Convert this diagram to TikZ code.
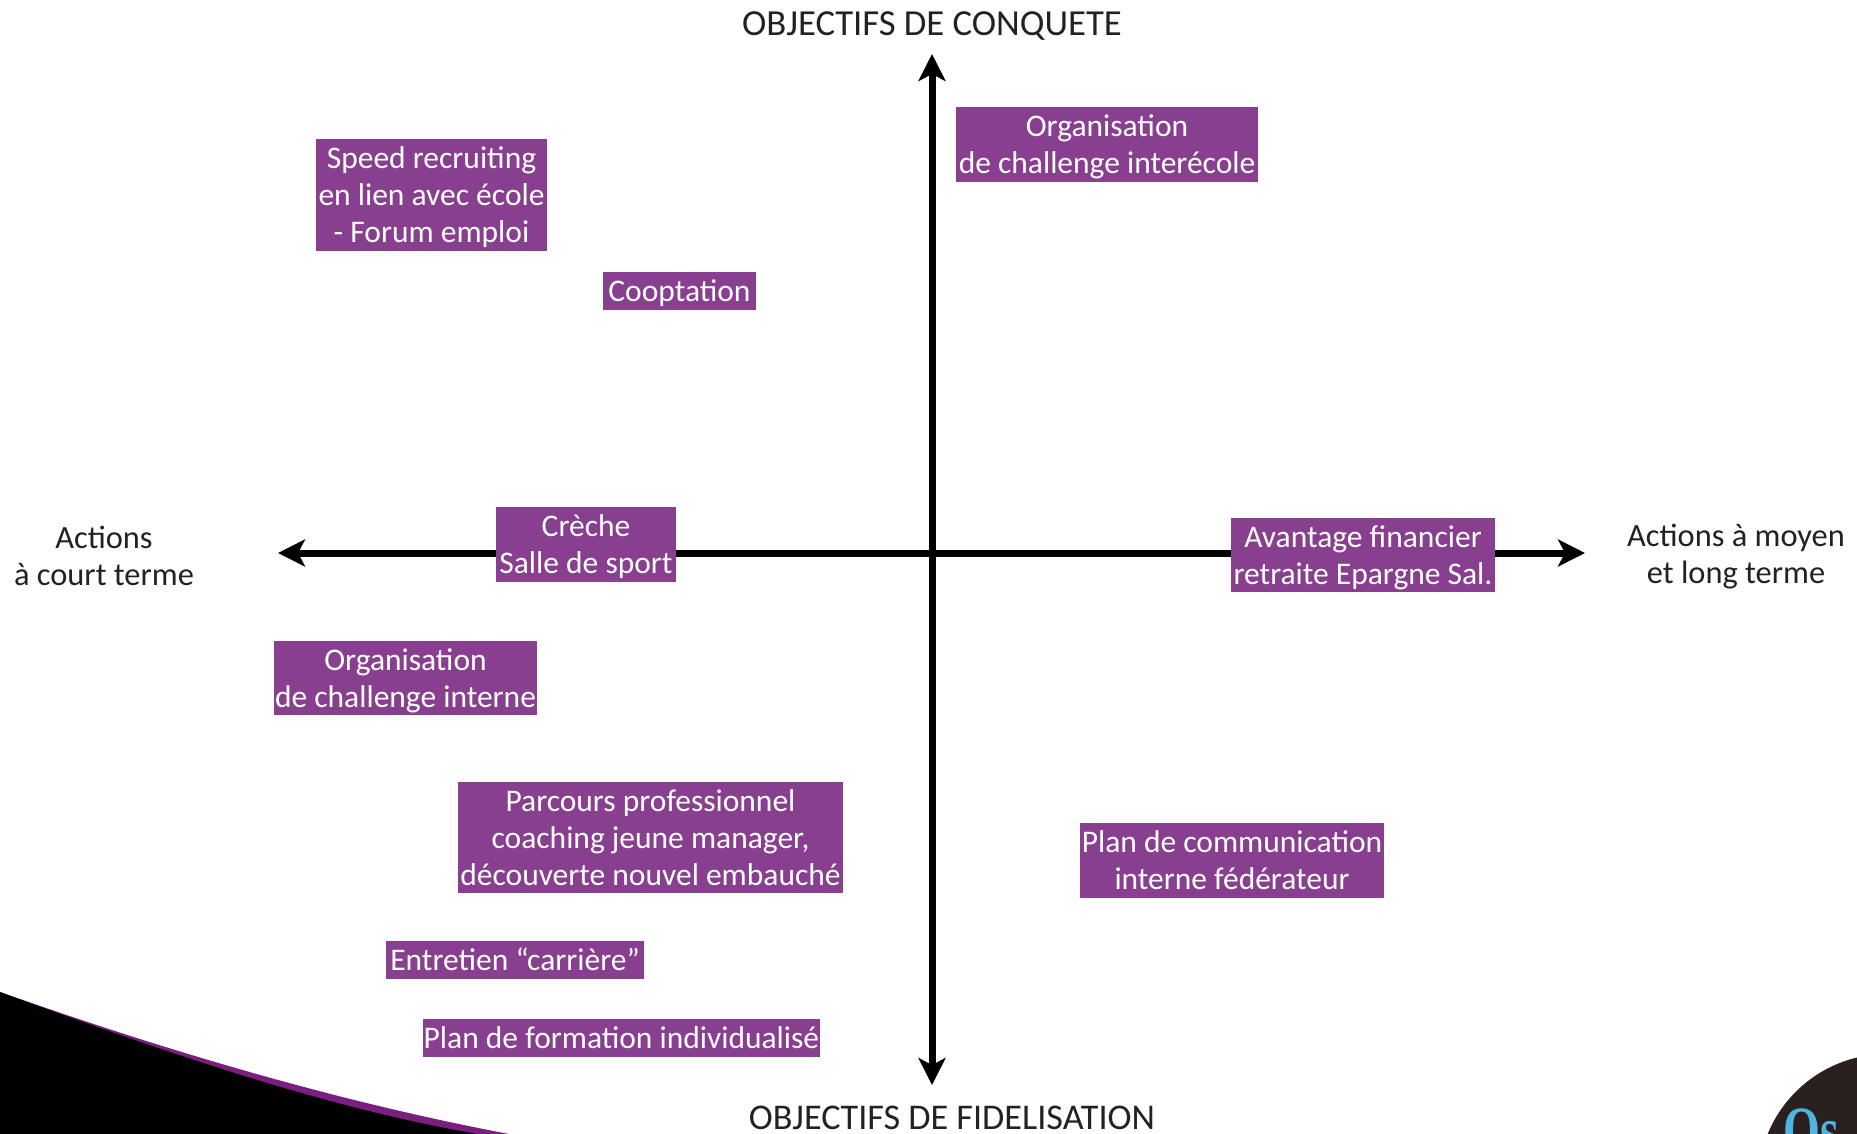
\documentclass[tikz,border=0pt]{standalone}
\usepackage{fontspec}
\setmainfont{Carlito}
\newfontfamily\logofont{Liberation Serif}
\usetikzlibrary{arrows.meta}
\definecolor{boxpurple}{HTML}{883F8F}
\definecolor{swoosh}{HTML}{7B1F7E}
\definecolor{logodark}{HTML}{2A2020}
\definecolor{logoblue}{HTML}{4FB3E3}
\definecolor{labelink}{HTML}{222222}
\tikzset{
  x=1pt,y=-1pt,
  tag/.style={fill=boxpurple,text=white,inner sep=0pt,font=\fontsize{31.5}{37}\selectfont},
  axislabel/.style={text=labelink,inner sep=0pt,align=center,font=\fontsize{32.4}{37}\selectfont},
  axistitle/.style={text=labelink,inner sep=0pt,font=\fontsize{36.2}{37}\selectfont},
  axisline/.style={line width=7pt,-{Stealth[length=27pt,width=27pt,inset=7pt]},black}
}
\newsavebox\tagcontent
\newcommand{\tagbox}[6]{\node[tag,minimum width=#4-#2,minimum height=#5-#3] (#1) at ({(#2+#4)/2},{(#3+#5)/2}) {\sbox\tagcontent{\begin{tabular}{@{}c@{}}#6\end{tabular}}\raisebox{\dimexpr-3.5pt-0.5\ht\tagcontent+0.5\dp\tagcontent\relax}[0pt][0pt]{\usebox\tagcontent}};}
\begin{document}
\begin{tikzpicture}
\useasboundingbox (0,0) rectangle (1857,1134);
% swoosh
\fill[swoosh] (0,992) .. controls (170,1052) and (340,1102) .. (509,1134) -- (0,1134) -- cycle;
\fill[black] (0,992) .. controls (170,1054) and (330,1109) .. (478,1134) -- (0,1134) -- cycle;
% logo
\begin{scope}
\clip (0,0) rectangle (1857,1134);
\fill[logodark] (1887,1183) circle (129);
\node[text=logoblue,font=\logofont\bfseries\fontsize{66}{66}\selectfont,anchor=base west,inner sep=0pt] (logo) at (1783,1152) {\scalebox{.72}[1]{Os}};
\end{scope}
% axes
\coordinate (west) at (278,553);
\coordinate (east) at (1585,553);
\coordinate (north) at (932,54);
\coordinate (south) at (932,1085);
\coordinate (mid) at (932,553);
\draw[axisline] (mid) -- (west);
\draw[axisline] (mid) -- (east);
\draw[axisline] (mid) -- (north);
\draw[axisline] (mid) -- (south);
% labels
\node[axistitle,font=\fontsize{36.7}{37}\selectfont] (conq) at (932,26) {OBJECTIFS DE CONQUETE};
\node[axistitle] (fid) at (952,1118) {OBJECTIFS DE FIDELISATION};
\node[axislabel] (court) at (104,556) {Actions\\à court terme};
\node[axislabel] (long) at (1736,557) {Actions à moyen\\et long terme};
% boxes
\tagbox{speed}{316}{139}{547}{251}{Speed recruiting\\en lien avec école\\- Forum emploi}
\tagbox{coopt}{603}{272}{756}{310}{Cooptation}
\tagbox{inter}{956}{107}{1258}{182}{Organisation\\de challenge interécole}
\tagbox{creche}{496}{507}{676}{582}{Crèche\\Salle de sport}
\tagbox{avant}{1231}{518}{1495}{592}{Avantage financier\\retraite Epargne Sal.}
\tagbox{interne}{274}{641}{537}{715}{Organisation\\de challenge interne}
\tagbox{parcours}{458}{782}{843}{893}{Parcours professionnel\\coaching jeune manager,\\découverte nouvel embauché}
\tagbox{comm}{1080}{823}{1384}{898}{Plan de communication\\interne fédérateur}
\tagbox{entretien}{386}{941}{644}{979}{Entretien “carrière”}
\tagbox{formation}{423}{1019}{820}{1057}{Plan de formation individualisé}
\end{tikzpicture}
\end{document}
